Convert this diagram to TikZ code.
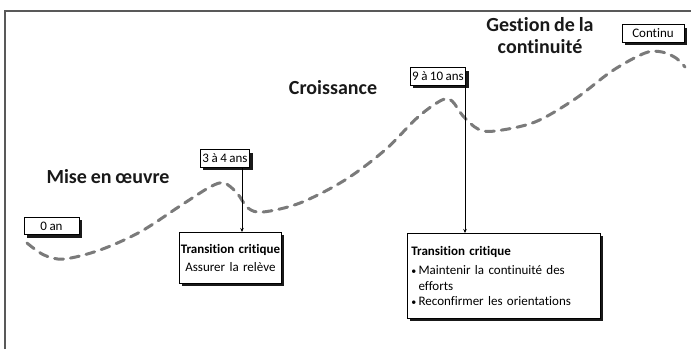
\documentclass[tikz,border=0pt]{standalone}
\usepackage{fontspec}
\setmainfont{Carlito}[RawFeature={-liga;-calt;-clig}, WordSpace=0.85]
\usetikzlibrary{shadows,arrows.meta}
\newcommand{\smallbullet}{{\fontsize{10}{10}\selectfont •}\,}
\begin{document}
\begin{tikzpicture}[x=1pt,y=-1pt,
  phase/.style={font=\bfseries\fontsize{20}{22}\selectfont, align=center, inner sep=0pt, text=black!90},
  boxshadow/.style={drop shadow={shadow xshift=3pt, shadow yshift=-3pt, fill=black, opacity=0.9}},
  milestone/.style={draw=black, line width=0.9pt, fill=white, boxshadow,
    font=\fontsize{13}{15}\selectfont, inner xsep=2pt, inner ysep=1pt, minimum height=17.5pt},
  note/.style={draw=black, line width=0.9pt, fill=white, boxshadow, anchor=north west,
    font=\fontsize{13}{15.5}\selectfont},
  link/.style={draw=black, line width=0.9pt, -{Stealth[length=4pt,width=3.5pt]}},
  track/.style={draw=black!52, line width=3pt, dash pattern=on 9pt off 7pt, line cap=round}
]
\useasboundingbox (0,0) rectangle (691,349);

% frame
\draw[black!65, line width=1.3pt] (5,349) -- (5,11) -- (691,11);

% dashed timeline track
\draw[track] plot[smooth, tension=0.55] coordinates {
  (27,243) (44,255) (64,259) (100,250) (140,232) (180,206) (210,187) (224,183)
  (237,193) (248,208) (263,212) (300,203) (345,180) (385,150) (418,117) (442,100)
  (452,101) (463,116) (478,129) (495,131) (535,122) (575,99) (612,71) (645,53)
  (662,52) (676,58) (685,67)};

% phase titles
\node[phase] (p1) at (108,177) {Mise en œuvre};
\node[phase] (p2) at (333,88) {Croissance};
\node[phase] (p3) at (540,36) {Gestion de la\\continuité};

% milestones
\node[milestone, minimum width=55pt] (m0) at (51.5,226) {0 an};
\node[milestone] (m3) at (225,158.5) {3 à 4 ans};
\node[milestone] (m9) at (438,76.5) {9 à 10 ans};
\node[milestone, minimum width=62pt] (mc) at (653,33.5) {Continu};

% critical transitions
\node[note, text width=100pt, align=center, minimum width=102pt, minimum height=51pt,
      inner xsep=1pt, inner ysep=4pt] (t1) at (179,232)
  {\textbf{Transition critique}\\[3pt]Assurer la relève};
\node[note, text width=185pt, align=left, minimum height=85pt, inner xsep=4pt, inner ysep=3pt] (t2) at (407,233)
  {\textbf{Transition critique}\\[4pt]
   \smallbullet Maintenir la continuité des\\
   \hphantom{\smallbullet}efforts\\
   \smallbullet Reconfirmer les orientations};

% connectors
\draw[link] ([xshift=17pt]m3.south) -- ([xshift=17pt]m3.south |- t1.north);
\draw[link] ([xshift=27pt]m9.south) -- ([xshift=27pt]m9.south |- t2.north);
\end{tikzpicture}
\end{document}
